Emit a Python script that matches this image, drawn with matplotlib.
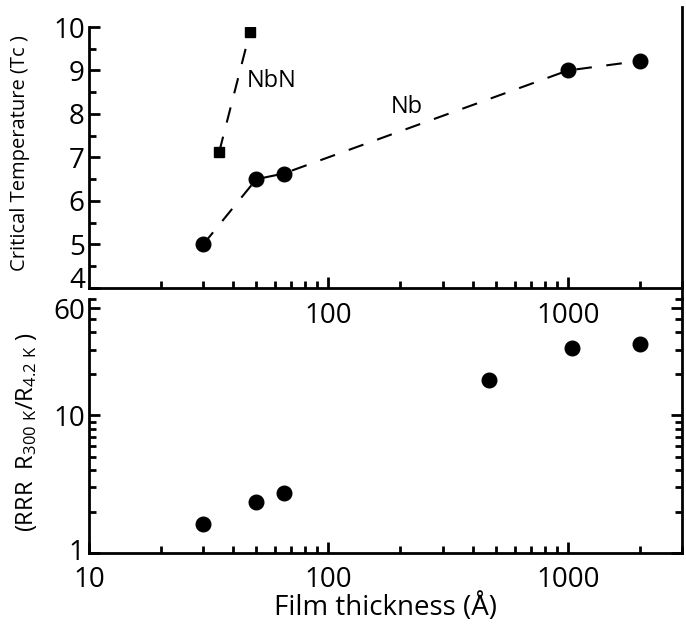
import matplotlib
matplotlib.use("Agg")
import matplotlib.pyplot as plt
from matplotlib.ticker import FixedLocator, NullFormatter, FixedFormatter

plt.rcParams['font.family'] = ['Open Sans', 'DejaVu Sans']
plt.rcParams['mathtext.default'] = 'regular'

# Tc data
nb_thick = [30, 50, 65, 1000, 2000]
nb_tc = [5.0, 6.5, 6.63, 9.0, 9.22]
nbn_thick = [35, 47]
nbn_tc = [7.13, 9.88]

# RRR data
rrr_thick = [30, 50, 65, 470, 1040, 2000]
rrr_val = [1.62, 2.34, 2.72, 18.2, 30.6, 33.2]

x_minor = [20, 30, 40, 50, 60, 70, 80, 90, 200, 300, 400, 500, 600, 700, 800, 900, 2000, 3000]

fig = plt.figure(figsize=(6.86, 6.28), dpi=100)
ax1 = fig.add_axes([0.1297, 0.5415, 0.8645, 0.4155])
ax2 = fig.add_axes([0.1297, 0.1194, 0.8645, 0.4045])
ax2.patch.set_visible(False)

dash = (7.5, 7.0)

# top panel
ax1.plot(nb_thick, nb_tc, color='black', lw=1.5, dashes=dash, marker='o', ms=10.5)
ax1.plot(nbn_thick, nbn_tc, color='black', lw=1.5, dashes=dash, marker='s', ms=7)
ax1.set_xscale('log')
ax1.set_xlim(10, 3000)
ax1.set_ylim(4, 10)
ax1.text(58, 8.76, 'NbN', fontsize=17, ha='center', va='center')
ax1.text(212, 8.16, 'Nb', fontsize=17, ha='center', va='center')

ax1.spines['top'].set_visible(False)
for s in ['left', 'bottom', 'right']:
    ax1.spines[s].set_linewidth(2)
ax1.spines['right'].set_bounds(3.75, 10.45)

ax1.xaxis.set_major_locator(FixedLocator([100, 1000]))
ax1.xaxis.set_major_formatter(FixedFormatter(['100', '1000']))
ax1.xaxis.set_minor_locator(FixedLocator(x_minor))
ax1.xaxis.set_minor_formatter(NullFormatter())
ax1.set_yticks([4, 5, 6, 7, 8, 9, 10])
ax1.set_yticks([4.5, 5.5, 6.5, 7.5, 8.5, 9.5], minor=True)
ax1.tick_params(which='both', direction='in', width=2, labelsize=20, right=False, top=False)
ax1.tick_params(which='major', length=8)
ax1.tick_params(which='minor', length=5)
ax1.tick_params(axis='x', pad=10)
ax1.tick_params(axis='y', pad=3)
ax1.set_ylabel('Critical Temperature (Tc )', fontsize=14.5)
ax1.yaxis.set_label_coords(-0.1, 0.517)

# bottom panel
ax2.plot(rrr_thick, rrr_val, 'o', color='black', ms=10.5)
ax2.set_xscale('log')
ax2.set_yscale('log')
ax2.set_xlim(10, 3000)
ax2.set_ylim(1, 70)
ax2.spines['top'].set_visible(False)
for s in ['left', 'bottom', 'right']:
    ax2.spines[s].set_linewidth(2)

ax2.xaxis.set_major_locator(FixedLocator([10, 100, 1000]))
ax2.xaxis.set_major_formatter(FixedFormatter(['10', '100', '1000']))
ax2.xaxis.set_minor_locator(FixedLocator(x_minor))
ax2.xaxis.set_minor_formatter(NullFormatter())
ax2.yaxis.set_major_locator(FixedLocator([1, 10, 60]))
ax2.yaxis.set_major_formatter(FixedFormatter(['1', '10', '60']))
ax2.yaxis.set_minor_locator(FixedLocator([2, 3, 4, 5, 6, 7, 8, 9, 20, 30, 40, 50, 70]))
ax2.yaxis.set_minor_formatter(NullFormatter())
ax2.tick_params(which='both', direction='in', width=2, labelsize=20, right=True, top=False)
ax2.tick_params(which='major', length=8)
ax2.tick_params(which='minor', length=5)
ax2.tick_params(axis='x', pad=9)
ax2.tick_params(axis='y', pad=3)
ax2.set_ylabel(r'(RRR  R$_{300\ K}$/R$_{4.2\ K}$ )', fontsize=17)
ax2.yaxis.set_label_coords(-0.085, 0.476)
ax2.set_xlabel('Film thickness (Å)', fontsize=20, labelpad=0)

# lift the "4" and "1" labels slightly so they clear the labels below them
ax1.yaxis.get_major_ticks()[0].label1.set_va('baseline')
ax2.yaxis.get_major_ticks()[0].label1.set_va('center')

fig.savefig('out.png', dpi=100)
